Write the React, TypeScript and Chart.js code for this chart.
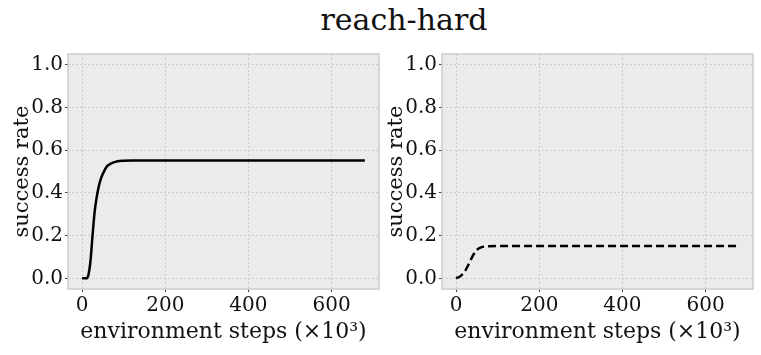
import React, { useEffect, useRef } from 'react';
import { Chart, registerables } from 'chart.js';

Chart.register(...registerables);

const chartTitle = 'reach-hard';
const xLabel = 'environment steps (×10³)';
const yLabel = 'success rate';
const xTicks = [0, 200, 400, 600];
const yTicks = [0, 0.2, 0.4, 0.6, 0.8, 1.0];

const stepsLeft = [0, 5, 10, 15, 20, 25, 30, 35, 40, 45, 50, 60, 70, 80, 90, 100, 120, 150, 200, 300, 400, 500, 600, 680];
const successLeft = [0, 0, 0, 0.015, 0.08, 0.2, 0.31, 0.38, 0.43, 0.465, 0.49, 0.525, 0.538, 0.545, 0.549, 0.55, 0.551, 0.551, 0.551, 0.551, 0.551, 0.551, 0.551, 0.551];

const stepsRight = [0, 10, 20, 30, 40, 50, 60, 70, 80, 100, 150, 200, 300, 400, 500, 600, 680];
const successRight = [0, 0.01, 0.03, 0.065, 0.105, 0.133, 0.145, 0.149, 0.15, 0.151, 0.151, 0.151, 0.151, 0.151, 0.151, 0.151, 0.151];

const FONT = "'DejaVu Serif', serif";
const TEXT = '#111111';

const framePlugin = {
  id: 'frame',
  beforeDraw(chart: any) {
    const { ctx, chartArea: a } = chart;
    ctx.save();
    ctx.fillStyle = '#ebebeb';
    ctx.fillRect(a.left, a.top, a.right - a.left, a.bottom - a.top);
    ctx.restore();
  },
  afterDraw(chart: any) {
    const { ctx, chartArea: a } = chart;
    ctx.save();
    ctx.strokeStyle = '#cccccc';
    ctx.lineWidth = 1.5;
    ctx.strokeRect(a.left, a.top, a.right - a.left, a.bottom - a.top);
    ctx.restore();
  },
};

type PanelProps = {
  left: number;
  width: number;
  yAxisWidth: number;
  padRight: number;
  yTitlePad: number;
  steps: number[];
  values: number[];
  dash: number[];
};

function Panel({ left, width, yAxisWidth, padRight, yTitlePad, steps, values, dash }: PanelProps) {
  const ref = useRef<HTMLCanvasElement>(null);
  useEffect(() => {
    const chart = new Chart(ref.current as HTMLCanvasElement, {
      type: 'line',
      data: {
        datasets: [
          {
            data: steps.map((x, i) => ({ x, y: values[i] })),
            borderColor: '#000000',
            borderWidth: 2.5,
            borderDash: dash,
            pointRadius: 0,
            cubicInterpolationMode: 'monotone',
            fill: false,
          } as any,
        ],
      },
      options: {
        animation: false,
        responsive: false,
        events: [],
        layout: { padding: { top: 10, right: padRight, left: 0, bottom: 0 } },
        plugins: { legend: { display: false }, tooltip: { enabled: false } },
        scales: {
          x: {
            type: 'linear',
            min: -34,
            max: 714,
            afterBuildTicks: (s: any) => {
              s.ticks = xTicks.map((v) => ({ value: v }));
            },
            afterFit: (s: any) => {
              s.height = 66;
            },
            ticks: {
              font: { family: FONT, size: 20 },
              color: TEXT,
              padding: 2,
              maxRotation: 0,
              autoSkip: false,
              callback: (v: any) => String(v),
            },
            grid: { color: '#c4c4c4', lineWidth: 0.8, tickLength: 3, tickColor: '#444444', tickWidth: 1 },
            border: { display: false, dash: [2, 2] },
            title: { display: true, text: xLabel, font: { family: FONT, size: 22 }, color: TEXT, padding: { top: 0, bottom: 10 } },
          },
          y: {
            type: 'linear',
            min: -0.05,
            max: 1.05,
            afterBuildTicks: (s: any) => {
              s.ticks = yTicks.map((v) => ({ value: v }));
            },
            afterFit: (s: any) => {
              s.width = yAxisWidth;
            },
            ticks: {
              font: { family: FONT, size: 20 },
              color: TEXT,
              padding: 2,
              autoSkip: false,
              callback: (v: any) => Number(v).toFixed(1),
            },
            grid: { color: '#c4c4c4', lineWidth: 0.8, tickLength: 3, tickColor: '#444444', tickWidth: 1 },
            border: { display: false, dash: [2, 2] },
            title: { display: true, text: yLabel, font: { family: FONT, size: 21 }, color: TEXT, padding: { top: yTitlePad, bottom: 0 } },
          },
        },
      } as any,
      plugins: [framePlugin],
    });
    return () => chart.destroy();
  }, []);
  return (
    <canvas
      ref={ref}
      width={width}
      height={315}
      style={{ position: 'absolute', left, top: 40, width, height: 315 }}
    />
  );
}

export default function App() {
  useEffect(() => {
    document.body.style.margin = '0';
  }, []);
  return (
    <div style={{ position: 'relative', width: 761, height: 355, background: '#ffffff', overflow: 'hidden' }}>
      <div
        style={{
          position: 'absolute',
          left: 404,
          top: 2,
          transform: 'translateX(-50%)',
          whiteSpace: 'nowrap',
          fontFamily: FONT,
          fontSize: 30,
          lineHeight: '36px',
          color: TEXT,
        }}
      >
        {chartTitle}
      </div>
      <Panel left={0} width={380} yAxisWidth={68} padRight={1} yTitlePad={10} steps={stepsLeft} values={successLeft} dash={[]} />
      <Panel left={380} width={381} yAxisWidth={62} padRight={8} yTitlePad={4} steps={stepsRight} values={successRight} dash={[8, 4]} />
    </div>
  );
}
